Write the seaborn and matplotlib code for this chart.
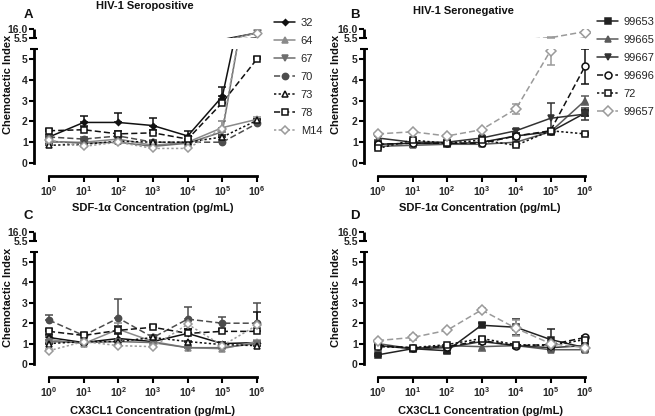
import numpy as np
import pandas as pd
import matplotlib
matplotlib.use('Agg')
import matplotlib.pyplot as plt
import seaborn as sns
from matplotlib.lines import Line2D
from matplotlib.ticker import NullLocator

sns.set_theme(style='white')
plt.rcParams['font.family'] = ['Liberation Sans', 'DejaVu Sans']
plt.rcParams['mathtext.fontset'] = 'custom'
plt.rcParams['mathtext.rm'] = 'Liberation Sans:bold'
plt.rcParams['mathtext.bf'] = 'Liberation Sans:bold'
plt.rcParams['mathtext.it'] = 'Liberation Sans:bold'

# ---------------- data ----------------
conc = [1e0, 1e1, 1e2, 1e3, 1e4, 1e5, 1e6]
x_tick_labels = [r'$\mathbf{10^{0}}$', r'$\mathbf{10^{1}}$', r'$\mathbf{10^{2}}$', r'$\mathbf{10^{3}}$',
                 r'$\mathbf{10^{4}}$', r'$\mathbf{10^{5}}$', r'$\mathbf{10^{6}}$']
y_ticks_low = [0, 1, 2, 3, 4, 5]
y_ticks_high = [5.5, 16.0]
y_tick_labels_high = ['5.5', '16.0']

pos_names = ['32', '64', '67', '70', '73', '78', 'M14']
neg_names = ['99653', '99665', '99667', '99696', '72', '99657']

# Panel A: HIV-1 seropositive, SDF-1a
A_vals = {
    '32':  [1.25, 1.95, 1.95, 1.80, 1.30, 3.20, 11.0],
    '64':  [1.00, 1.00, 1.15, 0.85, 1.00, 1.70, 2.10],
    '67':  [1.05, 0.95, 1.00, 0.80, 0.95, 1.50, 11.0],
    '70':  [1.25, 1.15, 1.30, 1.00, 1.00, 1.00, 1.90],
    '73':  [0.85, 0.90, 1.05, 1.00, 1.00, 1.25, 2.05],
    '78':  [1.55, 1.60, 1.40, 1.45, 1.15, 2.90, 5.00],
    'M14': [1.10, 0.80, 1.00, 0.70, 0.70, 1.65, 11.0],
}
A_err = {
    '32':  [0.10, 0.30, 0.45, 0.35, 0.25, 0.45, 0.0],
    '64':  [0.10, 0.10, 0.10, 0.10, 0.05, 0.30, 0.10],
    '67':  [0.10, 0.10, 0.10, 0.10, 0.10, 0.20, 0.0],
    '70':  [0.10, 0.10, 0.10, 0.10, 0.10, 0.10, 0.10],
    '73':  [0.05, 0.05, 0.05, 0.05, 0.05, 0.10, 0.05],
    '78':  [0.10, 0.20, 0.15, 0.15, 0.15, 0.20, 0.10],
    'M14': [0.10, 0.10, 0.10, 0.10, 0.10, 0.35, 0.0],
}
# Panel B: HIV-1 seronegative, SDF-1a
B_vals = {
    '99653': [0.90, 0.95, 0.90, 1.00, 1.30, 1.50, 2.40],
    '99665': [0.80, 0.85, 0.90, 0.90, 1.00, 1.50, 3.00],
    '99667': [1.20, 1.00, 1.00, 1.20, 1.55, 2.15, 2.35],
    '99696': [0.90, 0.95, 0.95, 0.95, 1.30, 1.55, 4.65],
    '72':    [0.70, 1.10, 0.95, 1.10, 0.85, 1.55, 1.40],
    '99657': [1.40, 1.50, 1.30, 1.60, 2.60, 5.40, 12.5],
}
B_err = {
    '99653': [0.10, 0.10, 0.05, 0.05, 0.10, 0.10, 0.15],
    '99665': [0.05, 0.10, 0.05, 0.10, 0.10, 0.10, 0.20],
    '99667': [0.10, 0.10, 0.05, 0.10, 0.10, 0.75, 0.30],
    '99696': [0.05, 0.05, 0.05, 0.05, 0.10, 0.10, 0.85],
    '72':    [0.05, 0.05, 0.05, 0.05, 0.05, 0.05, 0.05],
    '99657': [0.05, 0.05, 0.05, 0.05, 0.25, 0.70, 0.0],
}
# Panel C: HIV-1 seropositive, CX3CL1
C_vals = {
    '32':  [1.30, 1.05, 1.25, 1.10, 1.50, 1.00, 1.05],
    '64':  [1.20, 1.00, 1.70, 1.10, 0.80, 0.75, 1.10],
    '67':  [1.10, 1.05, 1.10, 1.05, 0.80, 0.80, 1.00],
    '70':  [2.15, 1.40, 2.25, 1.30, 2.20, 2.00, 2.00],
    '73':  [1.00, 1.10, 1.10, 1.30, 1.10, 0.95, 0.90],
    '78':  [1.60, 1.40, 1.65, 1.80, 1.50, 1.60, 1.60],
    'M14': [0.65, 1.10, 0.90, 0.85, 1.95, 0.90, 1.90],
}
C_err = {
    '32':  [0.10, 0.10, 0.20, 0.10, 0.20, 0.10, 0.10],
    '64':  [0.10, 0.10, 0.30, 0.10, 0.10, 0.10, 0.10],
    '67':  [0.10, 0.10, 0.10, 0.10, 0.10, 0.10, 0.10],
    '70':  [0.25, 0.10, 0.95, 0.10, 0.60, 0.30, 1.00],
    '73':  [0.05, 0.05, 0.05, 0.05, 0.05, 0.05, 0.05],
    '78':  [0.10, 0.10, 0.20, 0.10, 0.20, 0.10, 0.95],
    'M14': [0.10, 0.10, 0.10, 0.10, 0.20, 0.10, 0.10],
}
# Panel D: HIV-1 seronegative, CX3CL1
D_vals = {
    '99653': [0.45, 0.75, 0.65, 1.90, 1.80, 1.20, 0.80],
    '99665': [1.00, 0.75, 0.90, 0.85, 0.90, 0.70, 0.70],
    '99667': [0.90, 0.75, 0.80, 1.10, 0.90, 0.80, 0.90],
    '99696': [0.90, 0.80, 0.85, 1.15, 0.90, 0.95, 1.30],
    '72':    [0.85, 0.80, 0.95, 1.25, 0.95, 0.90, 1.20],
    '99657': [1.15, 1.30, 1.65, 2.65, 1.75, 1.00, 0.80],
}
D_err = {
    '99653': [0.05, 0.05, 0.10, 0.10, 0.40, 0.50, 0.10],
    '99665': [0.05, 0.05, 0.05, 0.20, 0.05, 0.05, 0.10],
    '99667': [0.10, 0.10, 0.10, 0.10, 0.10, 0.10, 0.10],
    '99696': [0.05, 0.05, 0.05, 0.05, 0.05, 0.05, 0.05],
    '72':    [0.05, 0.05, 0.05, 0.05, 0.05, 0.05, 0.05],
    '99657': [0.05, 0.10, 0.05, 0.10, 0.40, 0.10, 0.10],
}

# ---------------- styles ----------------
pos_style = {
    '32':  dict(color='#111111', ls='-',  marker='D', ms=3,   mfc='#111111'),
    '64':  dict(color='#8a8a8a', ls='-',  marker='^', ms=5,   mfc='#8a8a8a'),
    '67':  dict(color='#6e6e6e', ls='-',  marker='v', ms=5,   mfc='#6e6e6e'),
    '70':  dict(color='#4d4d4d', ls=(0, (4, 2)), marker='o', ms=4.5, mfc='#4d4d4d'),
    '73':  dict(color='#111111', ls=(0, (1.5, 1.5)), marker='^', ms=5, mfc='white'),
    '78':  dict(color='#111111', ls=(0, (4, 2)), marker='s', ms=5, mfc='white'),
    'M14': dict(color='#9a9a9a', ls=(0, (1.5, 1.5)), marker='D', ms=4.5, mfc='white'),
}
neg_style = {
    '99653': dict(color='#222222', ls='-', marker='s', ms=4, mfc='#222222'),
    '99665': dict(color='#5a5a5a', ls='-', marker='^', ms=5, mfc='#5a5a5a'),
    '99667': dict(color='#333333', ls='-', marker='v', ms=5, mfc='#333333'),
    '99696': dict(color='#111111', ls=(0, (4, 2)), marker='o', ms=5, mfc='white'),
    '72':    dict(color='#111111', ls=(0, (1.5, 1.5)), marker='s', ms=5, mfc='white'),
    '99657': dict(color='#9a9a9a', ls=(0, (4, 2)), marker='D', ms=5.5, mfc='white'),
}

W, H = 655, 416
fig = plt.figure(figsize=(W / 100, H / 100), dpi=100)
fig.patch.set_facecolor('white')


def fx(px):
    return px / W


def fy(py):
    return 1 - py / H


def make_panel(x0, x1, spine_x, y0, ppu, hi_gap, hi_h, xaxis_y):
    pad = (x1 - x0) / 6 * 0.15
    left, right = x0 - pad, x1 + pad
    y55 = y0 - 5.5 * ppu
    yh55 = y55 - hi_gap
    yh16 = yh55 - hi_h
    ax_lo = fig.add_axes([fx(left), fy(y0), (right - left) / W, (y0 - y55) / H])
    ax_hi = fig.add_axes([fx(left), fy(yh55), (right - left) / W, (yh55 - yh16) / H])
    return ax_lo, ax_hi, (left, right, spine_x, y0, xaxis_y)


def style_panel(ax_lo, ax_hi, geom):
    left, right, spine_x, y0, xaxis_y = geom
    for ax in (ax_lo, ax_hi):
        ax.set_xscale('log')
        ax.set_xlim(10 ** -0.15, 10 ** 6.15)
        ax.patch.set_alpha(0)
        ax.spines['top'].set_visible(False)
        ax.spines['right'].set_visible(False)
        ax.spines['left'].set_position(('outward', (left - spine_x) * 0.72))
        ax.spines['left'].set_linewidth(2)
        ax.spines['left'].set_color('black')
        ax.grid(False)
        ax.yaxis.remove_overlapping_locs = False
        ax.set_xlabel('')
        ax.set_ylabel('')
        if ax.get_legend() is not None:
            ax.get_legend().remove()
    ax_lo.set_ylim(0, 5.5)
    ax_hi.set_ylim(5.5, 16.0)
    # x axis
    ax_lo.spines['bottom'].set_position(('outward', (xaxis_y - y0) * 0.72))
    ax_lo.spines['bottom'].set_bounds(conc[0], conc[-1])
    ax_lo.spines['bottom'].set_linewidth(2)
    ax_lo.spines['bottom'].set_color('black')
    ax_lo.set_xticks(conc)
    ax_lo.set_xticklabels(x_tick_labels)
    ax_lo.xaxis.set_minor_locator(NullLocator())
    ax_lo.tick_params(axis='x', which='major', direction='out', length=4, width=1.5,
                      labelsize=7.5, pad=2, color='black', bottom=True)
    ax_hi.spines['bottom'].set_visible(False)
    ax_hi.set_xticks([])
    ax_hi.xaxis.set_minor_locator(NullLocator())
    ax_hi.tick_params(axis='x', which='both', bottom=False, top=False, labelbottom=False)
    # lower y axis
    ax_lo.set_yticks(y_ticks_low)
    ax_lo.set_yticklabels([str(v) for v in y_ticks_low])
    ax_lo.set_yticks([5.5], minor=True)
    ax_lo.tick_params(axis='y', which='major', direction='out', length=3.5, width=1.5,
                      labelsize=7.5, pad=1, color='black', left=True)
    ax_lo.tick_params(axis='y', which='minor', direction='inout', length=6, width=1.5,
                      color='black', left=True)
    ax_lo.spines['left'].set_bounds(0, 5.5)
    # upper y axis (break segment): labels from the axis, bracket drawn explicitly
    ax_hi.spines['left'].set_visible(False)
    ax_hi.set_yticks(y_ticks_high)
    ax_hi.set_yticklabels(y_tick_labels_high)
    ax_hi.tick_params(axis='y', which='major', direction='out', length=0, width=0,
                      labelsize=7.5, pad=4.5, color='black', left=True)
    for lab in ax_lo.get_yticklabels() + ax_hi.get_yticklabels():
        lab.set_fontweight('bold')
    span = right - left
    xs = (spine_x - left) / span
    tick = 5.0 / span
    tr = ax_hi.get_yaxis_transform()
    bracket_kw = dict(transform=tr, clip_on=False, color='black', solid_capstyle='butt')
    ax_hi.plot([xs, xs], y_ticks_high, lw=2, **bracket_kw)
    ax_hi.plot([xs - tick, xs], [y_ticks_high[1]] * 2, lw=1.5, **bracket_kw)
    ax_hi.plot([xs - tick, xs + tick * 0.6], [y_ticks_high[0]] * 2, lw=1.5, **bracket_kw)


def draw_series(ax_lo, ax_hi, names, vals, errs, styles, upper_only):
    handles = []
    for name in names:
        st = styles[name]
        v = np.asarray(vals[name], dtype=float)
        e = np.asarray(errs[name], dtype=float)
        lo = np.zeros_like(e) if upper_only else e
        df = pd.DataFrame({'conc': conc, 'value': v})
        # lower segment (0 - 5.5)
        m_lo = (v - lo) < 5.5
        ax_lo.errorbar(np.asarray(conc)[m_lo], v[m_lo], yerr=[lo[m_lo], e[m_lo]], fmt='none',
                       ecolor=st['color'], elinewidth=1.1, capsize=3, capthick=1.1, zorder=2)
        sns.lineplot(data=df, x='conc', y='value', ax=ax_lo, color=st['color'],
                     linestyle=st['ls'], linewidth=1.1, marker=st['marker'],
                     markersize=st['ms'], markerfacecolor=st['mfc'],
                     markeredgecolor=st['color'], markeredgewidth=1.1,
                     errorbar=None, zorder=3)
        # upper segment (5.5 - 16): line (clipped) plus marks that reach above 5.5
        sns.lineplot(data=df, x='conc', y='value', ax=ax_hi, color=st['color'],
                     linestyle=st['ls'], linewidth=1.1, marker=None,
                     errorbar=None, zorder=3)
        m_hi = (v + e) > 5.5
        if m_hi.any():
            ax_hi.errorbar(np.asarray(conc)[m_hi], v[m_hi], yerr=[lo[m_hi], e[m_hi]], fmt='none',
                           ecolor=st['color'], elinewidth=1.1, capsize=3, capthick=1.1, zorder=2)
        top = df[df['value'] > 5.5]
        if len(top):
            sns.scatterplot(data=top, x='conc', y='value', ax=ax_hi, color=st['mfc'],
                            marker=st['marker'], s=st['ms'] ** 2,
                            edgecolor=st['color'], linewidth=1.1, zorder=4)
        handles.append(Line2D([], [], color=st['color'], linestyle=st['ls'], linewidth=1.1,
                              marker=st['marker'], markersize=st['ms'],
                              markerfacecolor=st['mfc'], markeredgecolor=st['color'],
                              markeredgewidth=1.1))
    return handles


# Panel geometry (pixels)
A_lo, A_hi, gA = make_panel(49, 257, 34, 163, 20.8, 11, 9, 176)
B_lo, B_hi, gB = make_panel(378, 585, 364, 163, 20.8, 11, 9, 176)
C_lo, C_hi, gC = make_panel(49, 257, 34, 364, 20.4, 11, 9, 377)
D_lo, D_hi, gD = make_panel(378, 585, 364, 364, 20.4, 11, 9, 377)

hA = draw_series(A_lo, A_hi, pos_names, A_vals, A_err, pos_style, True)
hB = draw_series(B_lo, B_hi, neg_names, B_vals, B_err, neg_style, False)
draw_series(C_lo, C_hi, pos_names, C_vals, C_err, pos_style, True)
draw_series(D_lo, D_hi, neg_names, D_vals, D_err, neg_style, False)

style_panel(A_lo, A_hi, gA)
style_panel(B_lo, B_hi, gB)
style_panel(C_lo, C_hi, gC)
style_panel(D_lo, D_hi, gD)

leg_kw = dict(loc='upper left', frameon=False, fontsize=8, handlelength=1.9,
              handletextpad=0.5, labelspacing=0.72, borderaxespad=0, borderpad=0)
fig.legend(hA, pos_names, bbox_to_anchor=(fx(274), fy(18)), **leg_kw)
fig.legend(hB, neg_names, bbox_to_anchor=(fx(597), fy(17)), **leg_kw)

# Texts
tkw = dict(fontweight='bold', fontsize=8, color='#111111')
fig.text(fx(145), fy(6), 'HIV-1 Seropositive', ha='center', va='center', **tkw)
fig.text(fx(463), fy(11), 'HIV-1 Seronegative', ha='center', va='center', **tkw)
for letter, (px, py) in {'A': (28, 15), 'B': (355, 15), 'C': (28, 216), 'D': (355, 216)}.items():
    fig.text(fx(px), fy(py), letter, ha='center', va='center', fontweight='bold', fontsize=9.5,
             color='#111111')
for px, py in [(153, 208), (480, 208)]:
    fig.text(fx(px), fy(py), 'SDF-1α Concentration (pg/mL)', ha='center', va='center', **tkw)
for px, py in [(153, 411), (480, 411)]:
    fig.text(fx(px), fy(py), 'CX3CL1 Concentration (pg/mL)', ha='center', va='center', **tkw)
for px, py in [(8, 84), (336, 84), (8, 297), (336, 297)]:
    fig.text(fx(px), fy(py), 'Chemotactic Index', ha='center', va='center', rotation=90, **tkw)

fig.savefig('out.png', dpi=100, facecolor='white')
